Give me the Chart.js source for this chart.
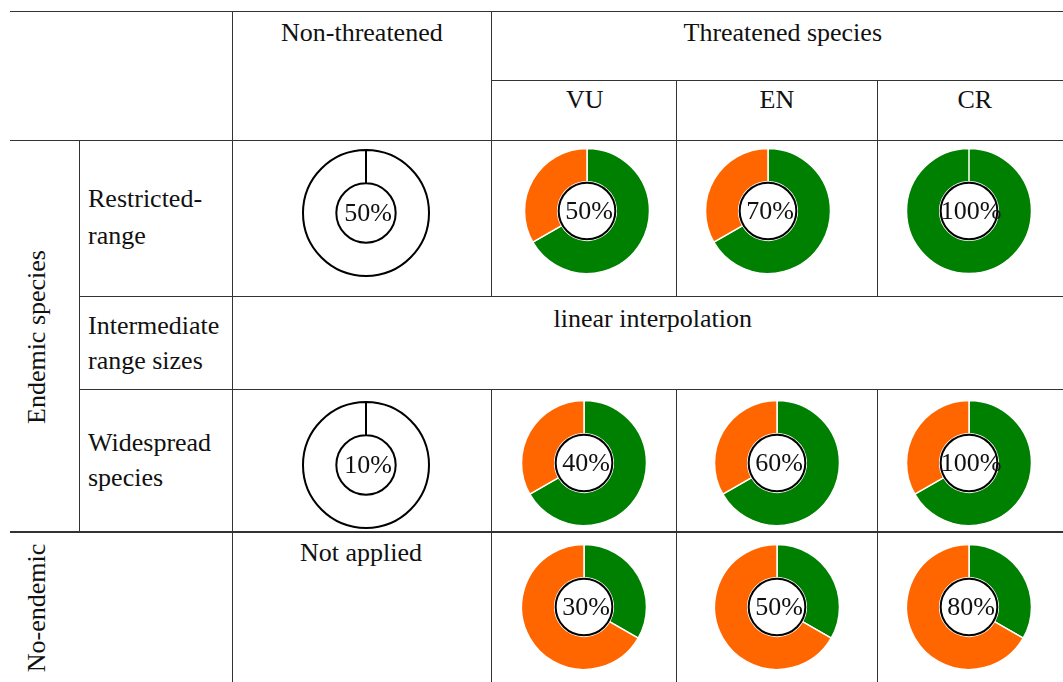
<!DOCTYPE html>
<html>
<head>
<meta charset="utf-8">
<script src="https://cdn.jsdelivr.net/npm/chart.js@4.4.1/dist/chart.umd.min.js"></script>
<style>
  html, body { margin: 0; padding: 0; background: #fff; }
  #sheet {
    position: relative; width: 1063px; height: 682px; overflow: hidden;
    font-family: "Liberation Serif", "Times New Roman", serif; font-size: 26px; color: #111;
  }
  .ln { position: absolute; background: #333; }
  .tx { position: absolute; white-space: nowrap; line-height: 26px; }
  canvas { position: absolute; }
</style>
</head>
<body>
<div id="sheet"></div>
<script>
// Threat categories (columns of the threatened block)
const categories = ['VU', 'EN', 'CR'];

// Percentage written inside each ring
const restrictedLabels = [50, 70, 100];
const widespreadLabels = [40, 60, 100];
const noEndemicLabels = [30, 50, 80];
const nonThreatenedLabels = [50, 10];

// Ring composition: green share and orange share (percent of the ring)
const restrictedGreen = [66.7, 66.7, 100];
const restrictedOrange = [33.3, 33.3, 0];
const widespreadGreen = [66.7, 66.7, 66.7];
const widespreadOrange = [33.3, 33.3, 33.3];
const noEndemicGreen = [33.3, 33.3, 33.3];
const noEndemicOrange = [66.7, 66.7, 66.7];

// Row / column headers
const columnHeaders = ['Non-threatened', 'Threatened species'];
const rowGroups = ['Endemic species', 'No-endemic'];
const rowLabels = [['Restricted-', 'range'], ['Intermediate', 'range sizes'], ['Widespread', 'species']];
const interpolationNote = 'linear interpolation';
const notAppliedNote = 'Not applied';

const GREEN = '#008000';
const ORANGE = '#ff6600';
const sheet = document.getElementById('sheet');

// ---------- table grid ----------
function hline(y, x1, x2, w) {
  const d = document.createElement('div');
  d.className = 'ln';
  d.style.left = x1 + 'px'; d.style.top = (y - w / 2) + 'px';
  d.style.width = (x2 - x1) + 'px'; d.style.height = w + 'px';
  sheet.appendChild(d);
}
function vline(x, y1, y2, w) {
  const d = document.createElement('div');
  d.className = 'ln';
  d.style.left = (x - w / 2) + 'px'; d.style.top = y1 + 'px';
  d.style.width = w + 'px'; d.style.height = (y2 - y1) + 'px';
  sheet.appendChild(d);
}
hline(11, 10, 1063, 1);
hline(80, 491, 1063, 1);
hline(140.5, 10, 1063, 1.5);
hline(296, 79, 1063, 1);
hline(389.5, 79, 1063, 1);
hline(532, 10, 1063, 1.5);
vline(232, 11, 682, 1);
vline(79.5, 140, 532, 1);
[491, 676, 877].forEach((x, i) => {
  vline(x, i === 0 ? 11 : 80, 296, 1);
  vline(x, 389.5, 682, 1);
});

// ---------- text ----------
// places a line of text centred on x (or left-aligned) with its baseline at y
function text(str, x, baseline, align) {
  const d = document.createElement('div');
  d.className = 'tx';
  d.textContent = str;
  d.style.top = (baseline - 22) + 'px';
  sheet.appendChild(d);
  if (align === 'left') d.style.left = x + 'px';
  else d.style.left = (x - d.offsetWidth / 2) + 'px';
}
function vtext(str, cx, cy) {
  const d = document.createElement('div');
  d.className = 'tx';
  d.textContent = str;
  d.style.left = cx + 'px'; d.style.top = cy + 'px';
  d.style.transform = 'translate(-50%, -50%) rotate(-90deg)';
  sheet.appendChild(d);
}

text(columnHeaders[0], 362, 42);
text(columnHeaders[1], 783, 42);
const headerX = [585, 777, 975];
categories.forEach((c, i) => text(c, headerX[i], 109));

text(rowLabels[0][0], 88, 208, 'left');
text(rowLabels[0][1], 88, 245, 'left');
text(rowLabels[1][0], 88, 335, 'left');
text(rowLabels[1][1], 88, 370, 'left');
text(rowLabels[2][0], 88, 452, 'left');
text(rowLabels[2][1], 88, 487, 'left');
vtext(rowGroups[0], 37, 337);
vtext(rowGroups[1], 37, 608);
text(interpolationNote, 653, 328);
text(notAppliedNote, 361, 562);

// ---------- rings ----------
// White hole with a black rim and the ring's percentage in the middle
const centreLabel = {
  id: 'centreLabel',
  afterDatasetsDraw(chart, args, opts) {
    const arc = chart.getDatasetMeta(0).data[0];
    const ctx = chart.ctx;
    ctx.save();
    if (opts.ring > 0) {
      ctx.beginPath();
      ctx.arc(arc.x, arc.y, arc.innerRadius - 1, 0, Math.PI * 2);
      ctx.fillStyle = '#fff';
      ctx.fill();
      ctx.lineWidth = opts.ring;
      ctx.strokeStyle = '#000';
      ctx.stroke();
    }
    ctx.fillStyle = '#111';
    ctx.font = '26px "Liberation Serif", "Times New Roman", serif';
    ctx.textAlign = 'center';
    ctx.textBaseline = 'middle';
    ctx.fillText(opts.text, arc.x + 2, arc.y + 1);
    ctx.restore();
  }
};

function ring(cx, cy, values, colors, edge, edgeWidth, radius, label, ringWidth) {
  const size = 140;
  const cv = document.createElement('canvas');
  cv.width = size; cv.height = size;
  cv.style.left = (cx - size / 2) + 'px';
  cv.style.top = (cy - size / 2) + 'px';
  cv.style.width = size + 'px'; cv.style.height = size + 'px';
  sheet.appendChild(cv);
  new Chart(cv, {
    type: 'doughnut',
    data: {
      labels: colors.map((_, i) => 'part ' + (i + 1)),
      datasets: [{
        data: values,
        backgroundColor: colors,
        borderColor: edge,
        borderWidth: edgeWidth
      }]
    },
    options: {
      responsive: false,
      animation: false,
      events: [],
      radius: radius,
      cutout: 32.5,
      layout: { padding: 0 },
      plugins: {
        legend: { display: false },
        tooltip: { enabled: false },
        centreLabel: { text: label + '%', ring: ringWidth }
      }
    },
    plugins: [centreLabel]
  });
}

// Non-threatened column: empty outlined rings (the arc border draws both rims)
const nonThreatY = [213, 465];
nonThreatenedLabels.forEach((v, i) => {
  ring(366, nonThreatY[i], [100], ['#ffffff'], '#000000', 2, 63, v, 0);
});

// Threatened columns
const ringX = [[587, 768, 969], [584, 777, 969], [584, 777, 969]];
const ringY = [211, 463, 607];
const rows = [
  [restrictedGreen, restrictedOrange, restrictedLabels],
  [widespreadGreen, widespreadOrange, widespreadLabels],
  [noEndemicGreen, noEndemicOrange, noEndemicLabels]
];
rows.forEach(([g, o, lab], r) => {
  categories.forEach((c, i) => {
    ring(ringX[r][i], ringY[r], [g[i], o[i]], [GREEN, ORANGE], '#ffffff', 1.5, 62.5, lab[i], 2);
  });
});
</script>
</body>
</html>
